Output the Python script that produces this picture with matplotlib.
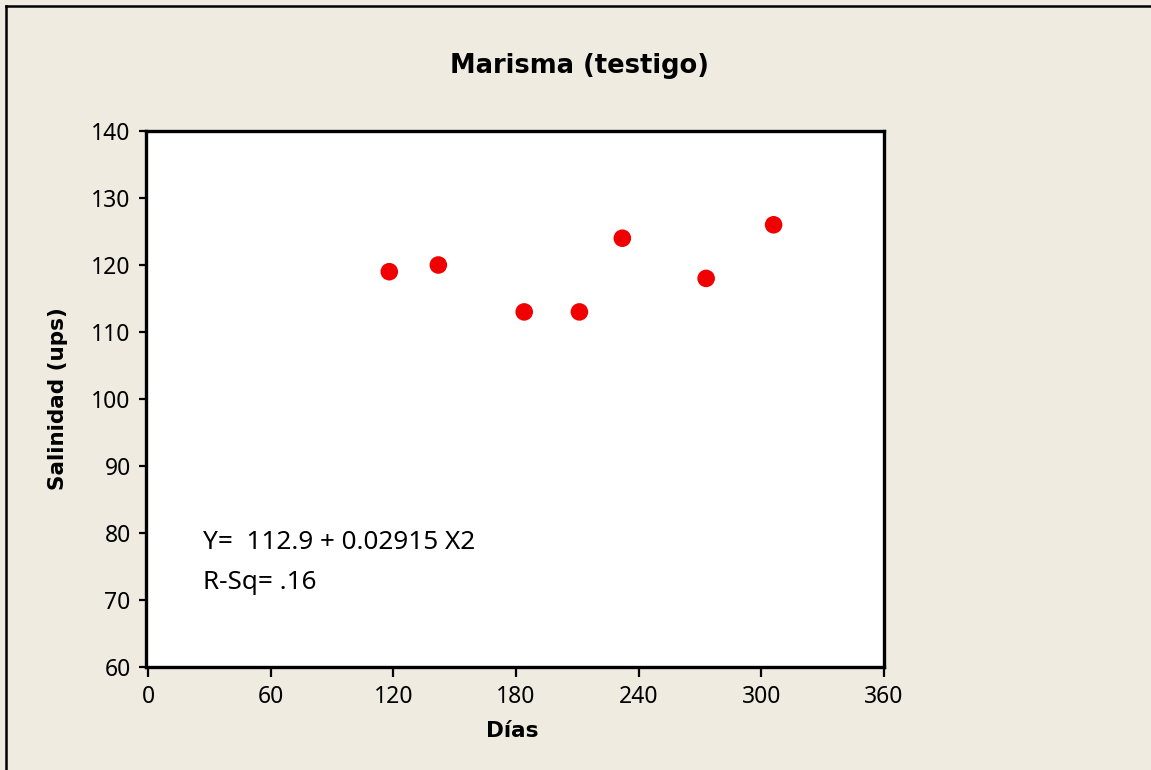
import matplotlib
matplotlib.use("Agg")
import matplotlib.pyplot as plt
from matplotlib.lines import Line2D

dias = [118, 142, 184, 211, 232, 273, 306]
salinidad = [119, 120, 113, 113, 124, 118, 126]
xticks = [0, 60, 120, 180, 240, 300, 360]
yticks = [60, 70, 80, 90, 100, 110, 120, 130, 140]
title = "Marisma (testigo)"
xlabel = "Días"
ylabel = "Salinidad (ups)"
eq_text = "Y=  112.9 + 0.02915 X2"
rsq_text = "R-Sq= .16"

plt.rcParams['font.family'] = ['Noto Sans', 'DejaVu Sans']
BOLD = ['DejaVu Sans']

bg = '#EFEBE1'
fig = plt.figure(figsize=(11.51, 7.70), dpi=100, facecolor=bg)
ax = fig.add_axes([146/1151, 1-667/770, (884-146)/1151, (667-131)/770])
ax.set_facecolor('white')

ax.scatter(dias, salinidad, s=160, color='#F00000', edgecolors='none', zorder=3)

ax.set_xlim(-1, 360)
ax.set_ylim(60, 140)
ax.set_xticks(xticks)
ax.set_yticks(yticks)
for sp in ax.spines.values():
    sp.set_linewidth(2.4)
ax.tick_params(axis='both', direction='out', width=1.6, labelsize=16.5, colors='black')
ax.tick_params(axis='y', length=5, pad=6)
ax.tick_params(axis='x', length=7, pad=6)

fig.text(579/1151, 1-66/770, title, fontsize=18.5, fontweight='bold', family=BOLD,
         ha='center', va='center')
fig.text(512/1151, 1-731/770, xlabel, fontsize=15.5, fontweight='bold', family=BOLD,
         ha='center', va='center')
fig.text(58/1151, 1-399/770, ylabel, fontsize=15.5, fontweight='bold', family=BOLD,
         ha='center', va='center', rotation=90)

ax.text(27, 78.6, eq_text, fontsize=18.8, ha='left', va='center')
ax.text(27, 72.6, rsq_text, fontsize=18.8, ha='left', va='center')

fig.add_artist(Line2D([6/1151, 6/1151], [0, 1-6/770], transform=fig.transFigure, color='black', lw=1.8))
fig.add_artist(Line2D([6/1151, 1], [1-6/770, 1-6/770], transform=fig.transFigure, color='black', lw=1.8))

fig.savefig('out.png', dpi=100, facecolor=bg)
